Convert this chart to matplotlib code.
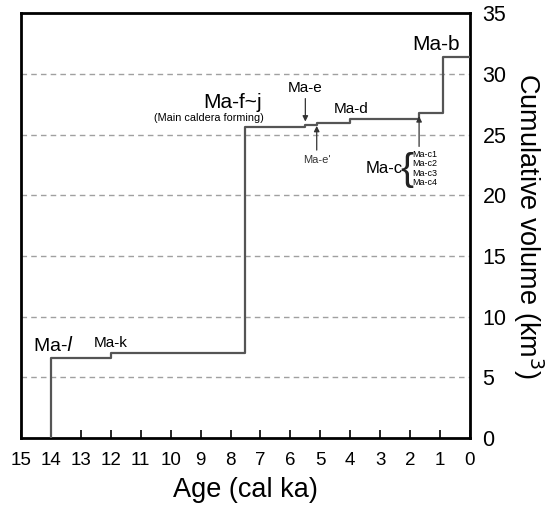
import matplotlib.pyplot as plt

plt.rcParams['font.family'] = ['Liberation Sans', 'DejaVu Sans']

# eruption ages (cal ka) and cumulative volume after each step (km3)
ages = [14, 14, 12, 7.5, 5.5, 5.1, 4.0, 1.7, 0.9, 0]
volumes = [0, 6.6, 7.0, 25.6, 25.8, 26.0, 26.3, 26.8, 31.4, 31.4]

x_ticks = list(range(15, -1, -1))
y_ticks = [0, 5, 10, 15, 20, 25, 30, 35]
grid_levels = [5, 10, 15, 20, 25, 30]
mac_units = ['Ma-c1', 'Ma-c2', 'Ma-c3', 'Ma-c4']

fig = plt.figure(figsize=(5.55, 5.08), dpi=100)
ax = fig.add_axes([0.0378, 0.1378, 0.809, 0.836])

for g in grid_levels:
    ax.axhline(g, color='#a0a0a0', lw=1.0, ls=(0, (4, 3)), zorder=1)

ax.step(ages, volumes, where='post', color='#555555', lw=1.6, zorder=3)

ax.set_xlim(15, 0)
ax.set_ylim(0, 35)
ax.set_xticks(x_ticks)
ax.set_yticks(y_ticks)
ax.tick_params(axis='x', direction='in', length=6, width=1.2, labelsize=13.5, pad=10)
ax.yaxis.tick_right()
ax.tick_params(axis='y', length=0, labelsize=15.5, pad=9)
ax.yaxis.set_label_position('right')
ax.set_xlabel('Age (cal ka)', fontsize=19.5, labelpad=6)
ax.set_ylabel('Cumulative volume (km$^3$)', fontsize=19.5, rotation=270, labelpad=28)
for s in ax.spines.values():
    s.set_linewidth(2.0)

# annotations
ax.text(14.6, 6.85, 'Ma-$\\it{l}$', fontsize=14, ha='left', va='bottom')
ax.text(12.0, 7.25, 'Ma-k', fontsize=11, ha='center', va='bottom')
ax.text(7.92, 26.85, 'Ma-f~j', fontsize=15, ha='center', va='bottom')
ax.text(8.72, 26.4, '(Main caldera forming)', fontsize=7.8, ha='center', va='center')
ax.text(5.5, 28.3, 'Ma-e', fontsize=11, ha='center', va='bottom')
ax.annotate('', xy=(5.5, 25.85), xytext=(5.5, 28.2),
            arrowprops=dict(arrowstyle='-|>', color='#333333', lw=0.9, mutation_scale=8))
ax.text(5.12, 22.9, "Ma-e'", fontsize=8, ha='center', va='center', color='#333333')
ax.annotate('', xy=(5.12, 25.95), xytext=(5.12, 23.5),
            arrowprops=dict(arrowstyle='-|>', color='#333333', lw=0.9, mutation_scale=8))
ax.text(3.97, 26.5, 'Ma-d', fontsize=11, ha='center', va='bottom')
ax.text(0.35, 31.65, 'Ma-b', fontsize=15, ha='right', va='bottom')
ax.annotate('', xy=(1.7, 26.75), xytext=(1.7, 23.8),
            arrowprops=dict(arrowstyle='-|>', color='#333333', lw=0.9, mutation_scale=8))
ax.text(2.24, 22.2, 'Ma-c', fontsize=12, ha='right', va='center')
ax.text(2.12, 22.1, '{', fontsize=28, ha='center', va='center', color='#222222')
for i, lab in enumerate(mac_units):
    ax.text(1.94, 23.35 - i * 0.76, lab, fontsize=6.5, ha='left', va='center')

fig.savefig('out.png', dpi=100)
